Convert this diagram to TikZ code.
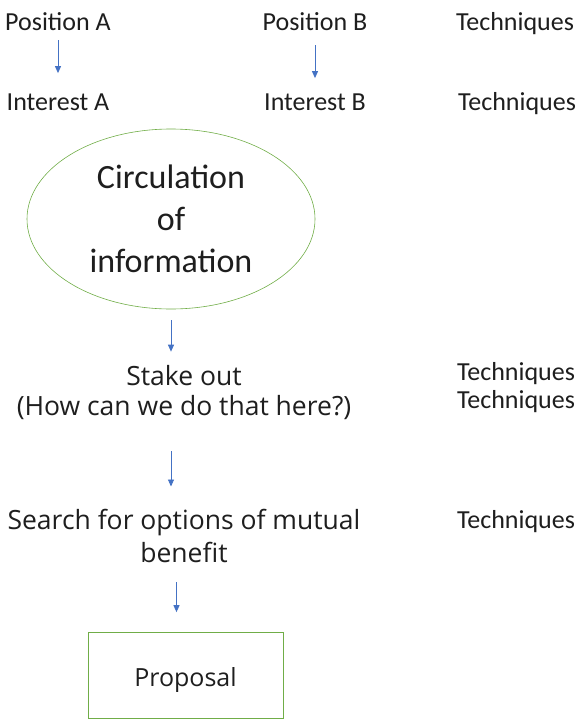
\documentclass[tikz,border=0pt]{standalone}
\usepackage{fontspec}
\setmainfont{Carlito}
\newfontfamily\widefont{Open Sans}
\usetikzlibrary{arrows.meta,shapes.geometric}
\definecolor{arrowblue}{RGB}{68,114,196}
\definecolor{shapegreen}{RGB}{112,173,71}
\definecolor{textgray}{RGB}{30,30,30}

\begin{document}
\begin{tikzpicture}[x=1pt,y=-1pt,
  lbl/.style={inner sep=0pt,anchor=base,text=textgray,font=\fontsize{26}{31}\selectfont},
  multi/.style={inner sep=0pt,anchor=base,align=center,text=textgray},
  arr/.style={draw=arrowblue,line width=0.9pt,-{Triangle[length=7pt,width=6pt]}},
  circbox/.style={ellipse,draw=shapegreen,line width=0.6pt,inner sep=0pt,
    minimum width=288pt,minimum height=180pt,align=center,text=textgray,
    font=\fontsize{34}{42}\selectfont},
  propbox/.style={rectangle,draw=shapegreen,line width=0.6pt,inner sep=0pt,
    minimum width=195pt,minimum height=86pt,text height=23pt,text depth=2pt,
    text=textgray,font=\widefont\fontsize{25}{30}\selectfont}]
\useasboundingbox (0,0) rectangle (581,720);

\node[lbl] (posA) at (58,30) {Position A};
\node[lbl] (posB) at (315,30) {Position B};
\node[lbl] (techA) at (515,30) {Techniques};

\node[lbl] (intA) at (58,110) {Interest A};
\node[lbl] (intB) at (315,110) {Interest B};
\node[lbl] (techB) at (517,110) {Techniques};

\draw[arr,shorten <=10pt,shorten >=20pt] (posA) -- (intA);
\draw[arr,shorten <=15pt,shorten >=15pt] (posB) -- (intB);

\node[circbox] (circ) at (171,219) {Circulation\\of\\information};

% multi-line nodes sit on their last baseline
\node[multi,font=\widefont\fontsize{26.5}{30}\selectfont] (stake) at (184,415) {Stake out\\(How can we do that here?)};
\node[lbl] (techC) at (516,380) {Techniques};
\node[lbl] (techD) at (516,408) {Techniques};

\node[multi,font=\widefont\fontsize{26.5}{33}\selectfont] (search) at (184,562) {Search for options of mutual\\benefit};
\node[lbl] (techE) at (516,528) {Techniques};

\node[propbox] (prop) at (185.5,675.5) {Proposal};

\draw[arr,shorten <=11pt,shorten >=13pt] (circ.south) -- (circ.south |- stake.north);
\draw[arr,shorten <=32pt,shorten >=22pt] (stake.south -| circ.south) -- (search.north -| circ.south);
\draw[arr,shorten <=20pt,shorten >=20pt] ([xshift=-9pt]prop.north |- search.south) -- ([xshift=-9pt]prop.north);
\end{tikzpicture}
\end{document}
